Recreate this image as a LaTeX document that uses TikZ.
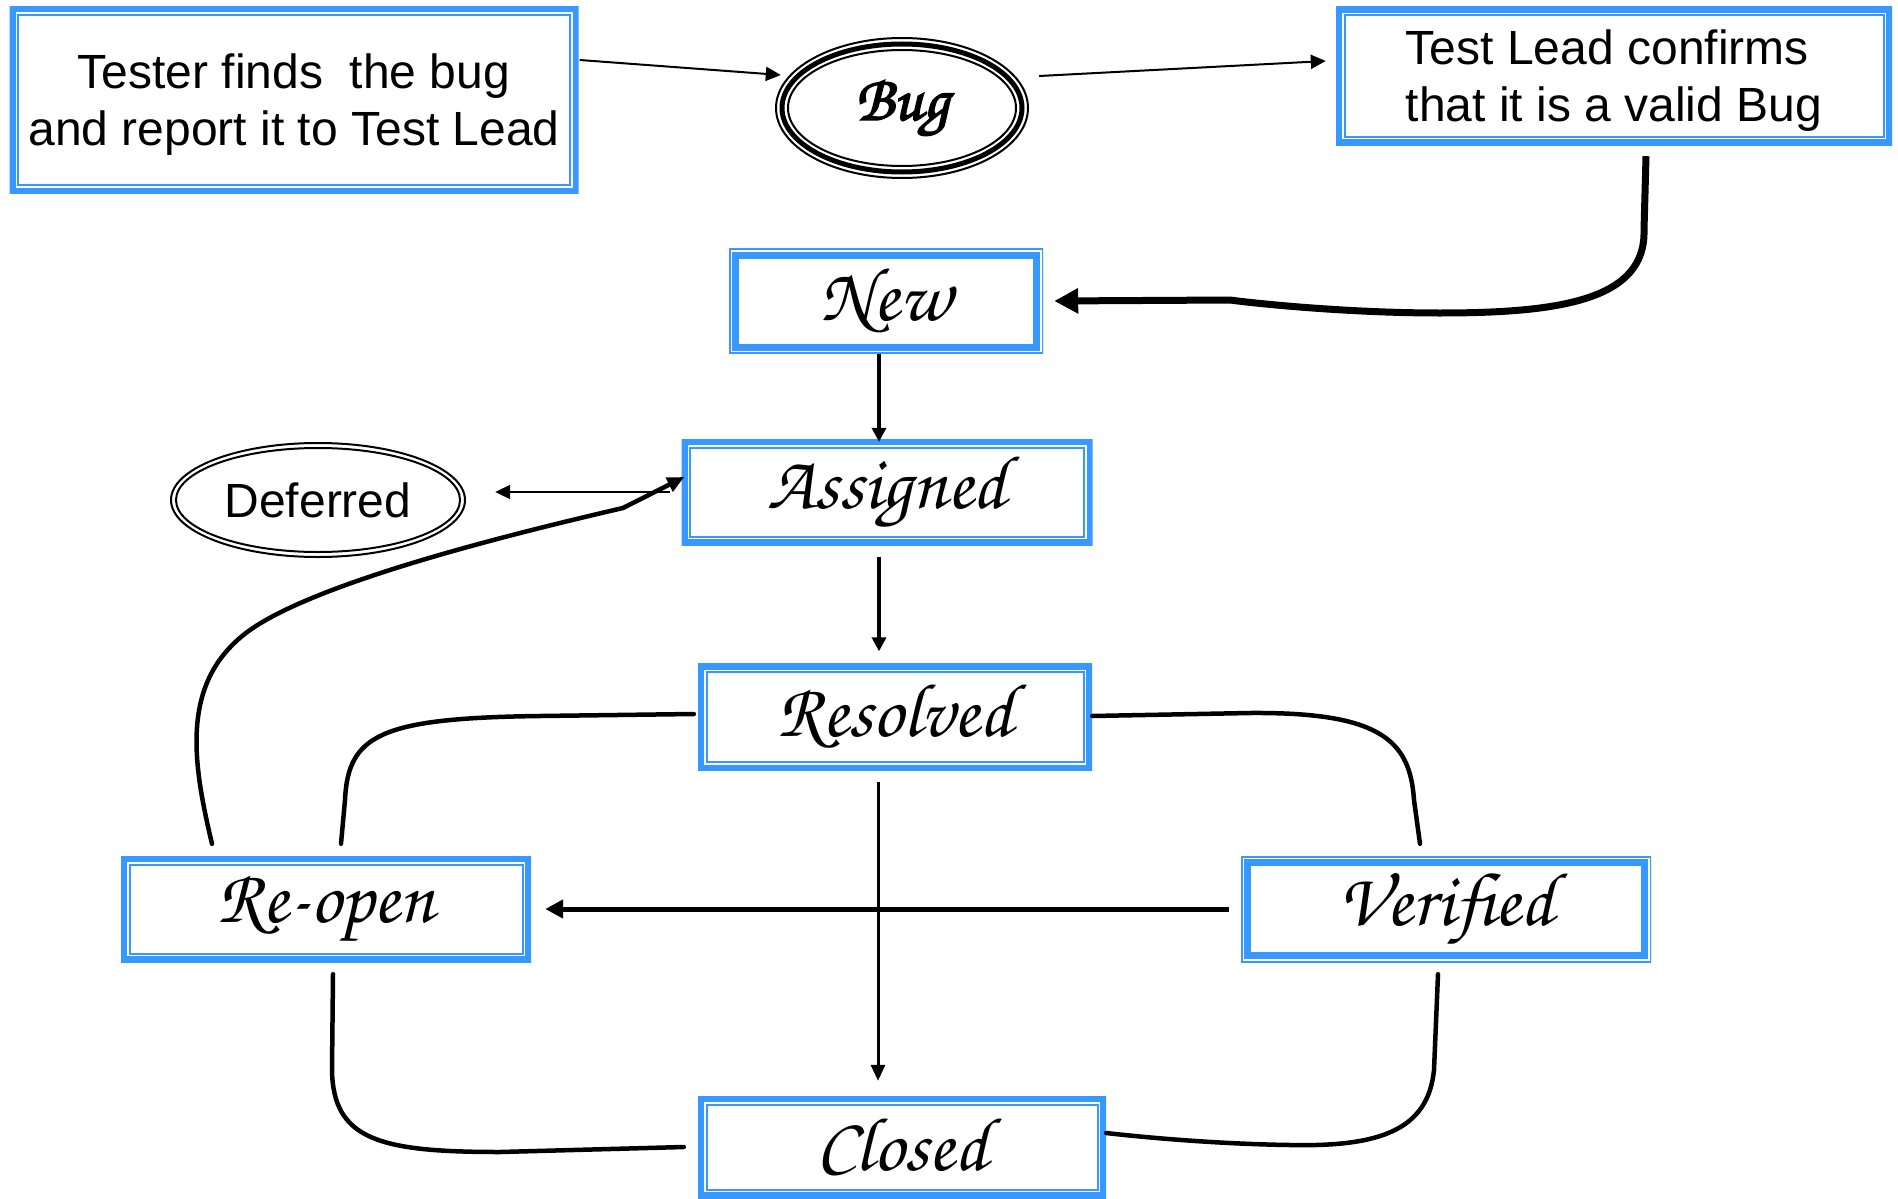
\documentclass[tikz,border=0pt]{standalone}
\usepackage{fontspec}
\setmainfont{Liberation Sans}
\newfontfamily\chorus{texgyrechorus-mediumitalic.otf}
\newfontfamily\chorusbold{texgyrechorus-mediumitalic.otf}[FakeBold=2.5]
\usetikzlibrary{arrows.meta,shapes.geometric}
\definecolor{frameblue}{RGB}{55,153,255}

\begin{document}
\begin{tikzpicture}[x=1pt,y=-1pt,
  % thick outer band, thin inner rule
  frameA/.style={rectangle, inner sep=0pt, fill=white,
    path picture={
      \draw[line width=12pt, frameblue] (path picture bounding box.south west) rectangle (path picture bounding box.north east);
      \draw[line width=2pt, frameblue] ([shift={(8.5pt,8.5pt)}]path picture bounding box.south west) rectangle ([shift={(-8.5pt,-8.5pt)}]path picture bounding box.north east);
    }},
  % thin outer rule, thick inner band
  frameB/.style={rectangle, inner sep=0pt, fill=white,
    path picture={
      \draw[line width=3pt, frameblue] (path picture bounding box.south west) rectangle (path picture bounding box.north east);
      \draw[line width=7pt, frameblue] ([shift={(6.5pt,6.5pt)}]path picture bounding box.south west) rectangle ([shift={(-6.5pt,-6.5pt)}]path picture bounding box.north east);
    }},
  sanstext/.style={font=\fontsize{48}{57}\selectfont, align=center, text depth=0pt},
  statetext/.style={font=\chorus\fontsize{76}{84}\selectfont},
  wire/.style={draw=black, line width=4.5pt, line cap=round},
  thinarrow/.style={draw=black, line width=2pt, -{Triangle[length=15pt,width=14pt]}},
]
\useasboundingbox (0,0) rectangle (1898,1199);

% ---- top row ----
\node[frameA, sanstext, xshift=4pt, minimum width=569pt, minimum height=187pt] (tester) at (290,100)
  {Tester finds\ \ the bug\\and report it to Test Lead};
\node[frameA, sanstext, align=left, minimum width=556pt, minimum height=138pt] (lead) at (1614,76)
  {Test Lead confirms\\that it is a valid Bug};
\node[ellipse, inner sep=0pt, minimum width=254pt, minimum height=142pt,
      font=\chorusbold\fontsize{64}{70}\selectfont] (bug) at (902,108) {Bug};
\draw[line width=2pt] (bug.center) ellipse [x radius=126pt, y radius=70pt];
\draw[line width=5pt] (bug.center) ellipse [x radius=120pt, y radius=64pt];
\draw[line width=2pt] (bug.center) ellipse [x radius=114pt, y radius=58pt];

% ---- states ----
\node[frameB, statetext, minimum width=314pt, minimum height=105pt] (new) at (886,301) {New};
\node[frameA, statetext, minimum width=411pt, minimum height=106pt] (assigned) at (887,492) {Assigned};
\node[frameA, statetext, minimum width=394pt, minimum height=107pt] (resolved) at (895,717) {Resolved};
\node[frameA, statetext, minimum width=410pt, minimum height=106pt] (reopen) at (326,909) {Re-open};
\node[frameB, statetext, minimum width=410pt, minimum height=106pt] (verified) at (1446,909) {Verified};
\node[frameA, statetext, minimum width=408pt, minimum height=102pt] (closed) at (902,1147) {Closed};

\node[ellipse, inner sep=0pt, minimum width=296pt, minimum height=116pt,
      font=\fontsize{48}{57}\selectfont] (deferred) at (318,500) {Deferred};
\draw[line width=2pt] (deferred.center) ellipse [x radius=147pt, y radius=57pt];
\draw[line width=2pt] (deferred.center) ellipse [x radius=142pt, y radius=52pt];

% ---- connectors ----
\draw[thinarrow] ([shift={(1pt,40pt)}]tester.east) -- ([shift={(6pt,33pt)}]bug.west);
\draw[thinarrow] ([shift={(10pt,32pt)}]bug.east) -- ([shift={(-10pt,15pt)}]lead.west);

\draw[draw=black, line width=7pt, -{Triangle[length=24pt,width=24pt]}]
  ([shift={(32pt,-11pt)}]lead.south) -- (1644,230)
  .. controls (1646,300) and (1560,313) .. (1440,313)
  .. controls (1350,313) and (1260,304) .. (1230,300)
  -- ([xshift=11pt]new.east);

\draw[draw=black, line width=4pt, -{Triangle[length=14pt,width=14pt]}]
  ([xshift=-7pt]new.south) -- ([shift={(-8pt,-3pt)}]assigned.north);
\draw[draw=black, line width=4pt, -{Triangle[length=14pt,width=14pt]}]
  ([shift={(-8pt,-12pt)}]assigned.south) -- ([shift={(-16pt,12pt)}]resolved.north);
\draw[thinarrow] ([xshift=-11pt]assigned.west) -- ([shift={(29pt,8pt)}]deferred.east);

\draw[wire, -{Triangle[length=17pt,width=15pt]}]
  ([shift={(-114pt,12pt)}]reopen.north)
  .. controls (192,760) and (180,680) .. (250,630)
  .. controls (300,595) and (420,555) .. (623,508)
  -- ([shift={(3pt,15pt)}]assigned.west);

\draw[wire] ([shift={(-4pt,3pt)}]resolved.west) -- (540,716)
  .. controls (380,718) and (348,735) .. (345,800)
  -- ([shift={(15pt,12pt)}]reopen.north);
\draw[wire] ([shift={(0pt,1pt)}]resolved.east) -- (1250,713)
  .. controls (1380,712) and (1410,740) .. (1414,800)
  -- ([shift={(-26pt,12pt)}]verified.north);

\draw[draw=black, line width=5pt, -{Triangle[length=18pt,width=18pt]}]
  ([xshift=-12pt]verified.west) -- ([xshift=14pt]reopen.east);
\draw[draw=black, line width=3pt, -{Triangle[length=16pt,width=14pt]}]
  ([shift={(-17pt,-11pt)}]resolved.south) -- ([shift={(-24pt,15pt)}]closed.north);

\draw[wire] ([shift={(7pt,-12pt)}]reopen.south) -- (332,1070)
  .. controls (333,1140) and (380,1152) .. (500,1152)
  -- ([xshift=-14pt]closed.west);
\draw[wire] ([shift={(-8pt,-12pt)}]verified.south) -- (1434,1070)
  .. controls (1428,1130) and (1380,1147) .. (1290,1145)
  .. controls (1220,1144) and (1150,1138) .. ([shift={(0pt,14pt)}]closed.east);
\end{tikzpicture}
\end{document}
